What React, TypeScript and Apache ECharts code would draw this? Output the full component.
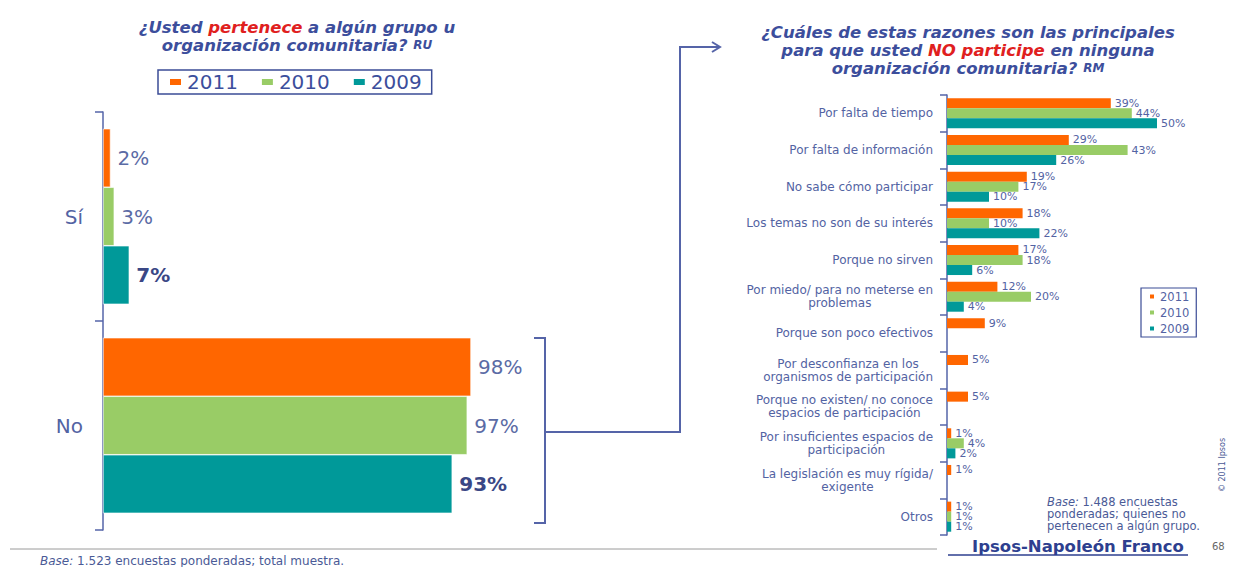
import React, { useEffect, useRef } from 'react';
import * as echarts from 'echarts';

const years = ['2011', '2010', '2009'];
const colors = ['#FF6600', '#99CC66', '#009999'];

const leftCategories = ['Sí', 'No'];
const left2011 = [2, 98];
const left2010 = [3, 97];
const left2009 = [7, 93];

const rightCategories = [
  'Por falta de tiempo',
  'Por falta de información',
  'No sabe cómo participar',
  'Los temas no son de su interés',
  'Porque no sirven',
  'Por miedo/ para no meterse en\nproblemas',
  'Porque son poco efectivos',
  'Por desconfianza en los\norganismos de participación',
  'Porque no existen/ no conoce\nespacios de participación',
  'Por insuficientes espacios de\nparticipación',
  'La legislación es muy rígida/\nexigente',
  'Otros',
];
const right2011 = [39, 29, 19, 18, 17, 12, 9, 5, 5, 1, 1, 1];
const right2010 = [44, 43, 17, 10, 18, 20, null, null, null, 4, null, 1];
const right2009 = [50, 26, 10, 22, 6, 4, null, null, null, 2, null, 1];

const FONT = 'DejaVu Sans, Arial, sans-serif';
const BLUE = '#3C4E9C';
const LABEL = '#5363A3';
const AXIS = '#5564A8';

export default function App() {
  const ref = useRef<HTMLDivElement>(null);
  useEffect(() => {
    if (!ref.current) return;
    const chart = echarts.init(ref.current, undefined, { renderer: 'svg' });
    const leftData = [left2011, left2010, left2009];
    const rightData = [right2011, right2010, right2009];

    const leftSeries = leftData.map((d, i) => ({
      type: 'bar',
      name: years[i],
      xAxisIndex: 0,
      yAxisIndex: 0,
      data: d,
      barGap: '0%',
      barCategoryGap: '16%',
      itemStyle: { color: colors[i], borderColor: '#ffffff', borderWidth: 0.6 },
      label: {
        show: true,
        position: 'right',
        distance: 7,
        formatter: '{c}%',
        fontSize: 20,
        fontFamily: FONT,
        color: i === 2 ? '#3A4785' : '#5B6BA5',
        fontWeight: i === 2 ? 'bold' : 'normal',
      },
    }));

    const rightSeries = rightData.map((d, i) => ({
      type: 'bar',
      name: years[i],
      xAxisIndex: 1,
      yAxisIndex: 1,
      data: d,
      barGap: '0%',
      barCategoryGap: '18%',
      itemStyle: { color: colors[i] },
      label: {
        show: true,
        position: 'right',
        distance: 4,
        formatter: '{c}%',
        fontSize: 11,
        fontFamily: FONT,
        color: LABEL,
      },
    }));

    const titleRich = (size: number) => ({
      b: { fontSize: size, fontWeight: 'bold', fontStyle: 'italic', color: BLUE, fontFamily: FONT, lineHeight: 18 },
      r: { fontSize: size, fontWeight: 'bold', fontStyle: 'italic', color: '#E0201E', fontFamily: FONT, lineHeight: 18 },
      s: { fontSize: 12, fontWeight: 'bold', fontStyle: 'italic', color: BLUE, fontFamily: FONT, lineHeight: 18 },
    });

    chart.setOption({
      animation: false,
      backgroundColor: '#ffffff',
      title: [
        {
          left: 292,
          top: 13,
          textAlign: 'center',
          text: '{b|¿Usted }{r|pertenece}{b| a algún grupo u}\n{b|organización comunitaria? }{s|RU}',
          textStyle: { rich: titleRich(16.5) },
        },
        {
          left: 963,
          top: 18,
          textAlign: 'center',
          text:
            '{b|¿Cuáles de estas razones son las principales}\n{b|para que usted }{r|NO participe}{b| en ninguna}\n{b|organización comunitaria? }{s|RM}',
          textStyle: { rich: titleRich(16.5) },
        },
      ],
      legend: [
        {
          left: 158,
          top: 70,
          icon: 'rect',
          itemWidth: 13,
          itemHeight: 8,
          itemGap: 22,
          padding: [2, 10],
          borderColor: '#3B4C96',
          borderWidth: 1.5,
          data: years,
          textStyle: { fontSize: 20, color: BLUE, fontFamily: FONT },
        },
        {
          left: 1141,
          top: 288,
          orient: 'vertical',
          icon: 'rect',
          itemWidth: 6,
          itemHeight: 6,
          itemGap: 3,
          padding: [2, 7],
          borderColor: '#3B4C96',
          borderWidth: 1.2,
          data: years,
          textStyle: { fontSize: 11.5, color: LABEL, fontFamily: FONT, lineHeight: 13 },
        },
      ],
      grid: [
        { left: 103, top: 112, width: 375.5, height: 418 },
        { left: 947, top: 95, width: 210, height: 440 },
      ],
      xAxis: [
        { gridIndex: 0, type: 'value', min: 0, max: 100, show: false },
        { gridIndex: 1, type: 'value', min: 0, max: 50, show: false },
      ],
      yAxis: [
        {
          gridIndex: 0,
          type: 'category',
          inverse: true,
          data: leftCategories,
          axisLine: { show: true, lineStyle: { color: AXIS, width: 1.5 } },
          axisTick: { show: true, length: 8, lineStyle: { color: AXIS, width: 1.5 } },
          axisLabel: { fontSize: 20, color: LABEL, fontFamily: FONT, margin: 20 },
        },
        {
          gridIndex: 1,
          type: 'category',
          inverse: true,
          data: rightCategories,
          axisLine: { show: true, lineStyle: { color: AXIS, width: 1.5 } },
          axisTick: { show: true, length: 7, lineStyle: { color: AXIS, width: 1.5 } },
          axisLabel: {
            margin: 14,
            formatter: (v: string) => v.split('\n').map((l) => `{c|${l}}`).join('\n'),
            rich: {
              c: { align: 'center', fontSize: 12, color: LABEL, fontFamily: FONT, lineHeight: 13 },
            },
          },
        },
      ],
      series: [...leftSeries, ...rightSeries],
      graphic: [
        {
          type: 'polyline',
          shape: { points: [[534, 338], [545, 338], [545, 523], [534, 523]] },
          style: { stroke: AXIS, lineWidth: 2, fill: null },
        },
        {
          type: 'polyline',
          shape: { points: [[545, 432], [680, 432], [680, 47], [719, 47]] },
          style: { stroke: AXIS, lineWidth: 2, fill: null },
        },
        {
          type: 'polyline',
          shape: { points: [[712, 42], [720, 47], [712, 52]] },
          style: { stroke: AXIS, lineWidth: 2, fill: null },
        },
        {
          type: 'line',
          shape: { x1: 10, y1: 549, x2: 937, y2: 549 },
          style: { stroke: '#9A9A9A', lineWidth: 1 },
        },
        {
          type: 'text',
          x: 40,
          y: 561,
          style: {
            text: '{i|Base:}{n| 1.523 encuestas ponderadas; total muestra.}',
            verticalAlign: 'middle',
            rich: {
              i: { fontSize: 12, fontStyle: 'italic', fill: '#4A5A96', fontFamily: FONT },
              n: { fontSize: 12, fill: '#4A5A96', fontFamily: FONT },
            },
          },
        },
        {
          type: 'text',
          x: 1047,
          y: 496,
          style: {
            text: '{i|Base:}{n| 1.488 encuestas}\n{n|ponderadas; quienes no}\n{n|pertenecen a algún grupo.}',
            rich: {
              i: { fontSize: 11.5, fontStyle: 'italic', fill: '#4A5A96', fontFamily: FONT, lineHeight: 12 },
              n: { fontSize: 11.5, fill: '#4A5A96', fontFamily: FONT, lineHeight: 12 },
            },
          },
        },
        {
          type: 'text',
          x: 1222,
          y: 465,
          rotation: Math.PI / 2,
          style: {
            text: '© 2011 Ipsos',
            fontSize: 8,
            fill: '#4A5A96',
            fontFamily: FONT,
            align: 'center',
            verticalAlign: 'middle',
          },
        },
        {
          type: 'text',
          x: 1078,
          y: 546,
          style: {
            text: 'Ipsos-Napoleón Franco',
            fontSize: 16.5,
            fontWeight: 'bold',
            fill: '#2E3F8F',
            fontFamily: FONT,
            align: 'center',
            verticalAlign: 'middle',
          },
        },
        {
          type: 'line',
          shape: { x1: 948, y1: 555, x2: 1188, y2: 555 },
          style: { stroke: '#2E3F8F', lineWidth: 1.5 },
        },
        {
          type: 'text',
          x: 1212,
          y: 546,
          style: {
            text: '68',
            fontSize: 10,
            fill: '#666666',
            fontFamily: FONT,
            verticalAlign: 'middle',
          },
        },
      ],
    });
    return () => chart.dispose();
  }, []);
  return (
    <div
      ref={ref}
      style={{ position: 'absolute', left: 0, top: 0, width: 1237, height: 567 }}
    />
  );
}
